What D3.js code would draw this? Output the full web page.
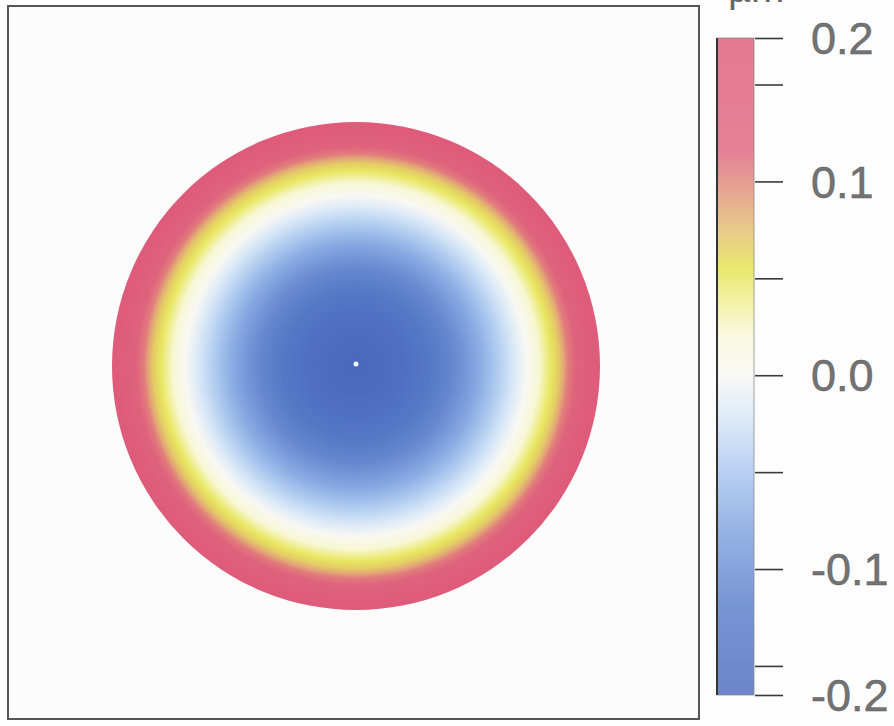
<!DOCTYPE html>
<html>
<head>
<meta charset="utf-8">
<script src="https://cdn.jsdelivr.net/npm/d3@7"></script>
<style>
  body { margin: 0; background: #fdfdfd; }
  svg { display: block; }
</style>
</head>
<body>
<div id="chart"></div>
<script>
// radial profile (normalized radius -> value)
var profileR = [0, 0.1, 0.2, 0.3, 0.4, 0.5, 0.55, 0.6, 0.65, 0.7, 0.75, 0.8, 0.83, 0.85, 0.87, 0.9, 0.95, 1.0];
var profileV = [-0.165, -0.162, -0.152, -0.133, -0.108, -0.075, -0.057, -0.038, -0.019, 0.0, 0.022, 0.05, 0.068, 0.085, 0.105, 0.13, 0.158, 0.172];

// colour map
var colorVals = [-0.165, -0.12, -0.08, -0.05, -0.02, 0.0, 0.02, 0.04, 0.055, 0.075, 0.095, 0.115, 0.174];
var colorHex  = ["#4a6bbd", "#5a7dca", "#80a2de", "#a9c6ef", "#d9e8f7", "#f8f8f3", "#f9f8dc", "#efee8c", "#e4e34c", "#e4bf72", "#e2927a", "#df667e", "#de5b7a"];

var scaleMin = -0.165, scaleMax = 0.174;
var tickValues = [-0.15, -0.1, -0.05, 0, 0.05, 0.1, 0.15];
var labelValues = [-0.165, -0.1, 0, 0.1, 0.174];
var labelTexts = ["-0.2", "-0.1", "0.0", "0.1", "0.2"];

var width = 894, height = 726;

var svg = d3.select("#chart").append("svg")
  .attr("width", width)
  .attr("height", height);

var defs = svg.append("defs");

var colorScale = d3.scaleLinear()
  .domain(colorVals)
  .range(colorHex)
  .clamp(true);

// pupil coordinates -> pixels
var xScale = d3.scaleLinear().domain([-1, 1]).range([112, 600]),
    yScale = d3.scaleLinear().domain([-1, 1]).range([610, 122]);

// plot frame
svg.append("rect")
  .attr("x", 8).attr("y", 6)
  .attr("width", 691).attr("height", 713)
  .style("fill", "#fcfcfc")
  .style("stroke", "#555")
  .style("stroke-width", 2);

// radial gradient built from the profile
var rg = defs.append("radialGradient")
  .attr("id", "map")
  .attr("cx", "50%").attr("cy", "50%").attr("r", "50%");
rg.selectAll("stop")
  .data(profileR)
  .enter().append("stop")
  .attr("offset", function (d) { return (d * 100) + "%"; })
  .attr("stop-color", function (d, i) { return colorScale(profileV[i]); });

svg.append("circle")
  .attr("cx", xScale(0))
  .attr("cy", yScale(0))
  .attr("r", xScale(1) - xScale(0))
  .style("fill", "url(#map)");

// centre marker
svg.append("circle")
  .attr("cx", xScale(0))
  .attr("cy", yScale(0) - 2)
  .attr("r", 2.5)
  .style("fill", "#f4f6fb");

// colour bar
var barScale = d3.scaleLinear()
  .domain([scaleMin, scaleMax])
  .range([695, 38]);

var lg = defs.append("linearGradient")
  .attr("id", "bar")
  .attr("x1", 0).attr("y1", 1).attr("x2", 0).attr("y2", 0);
lg.selectAll("stop")
  .data(colorVals)
  .enter().append("stop")
  .attr("offset", function (d) { return ((d - scaleMin) / (scaleMax - scaleMin) * 100) + "%"; })
  .attr("stop-color", function (d) { return colorScale(d); })
  .attr("stop-opacity", 0.82);

svg.append("rect")
  .attr("x", 717)
  .attr("y", barScale(scaleMax))
  .attr("width", 37)
  .attr("height", barScale(scaleMin) - barScale(scaleMax))
  .style("fill", "url(#bar)")
  .style("stroke", "#8a8a8a")
  .style("stroke-width", 0.8);

svg.append("line")
  .attr("x1", 717).attr("x2", 717)
  .attr("y1", barScale(scaleMax)).attr("y2", barScale(scaleMin))
  .style("stroke", "#333")
  .style("stroke-width", 2);

var ticks = svg.append("g")
  .attr("transform", "translate(755,0)")
  .call(d3.axisRight(barScale)
    .tickValues(tickValues.concat([scaleMin, scaleMax]))
    .tickSize(28)
    .tickFormat(""));
ticks.select(".domain").remove();
ticks.selectAll(".tick line")
  .style("stroke", "#3a3a3a")
  .style("stroke-width", 1.6);

svg.selectAll(".barlabel")
  .data(labelValues)
  .enter().append("text")
  .attr("class", "barlabel")
  .attr("x", 811)
  .attr("y", function (d) { return barScale(d); })
  .attr("dy", "0.36em")
  .style("font-family", "'Liberation Sans', Arial, sans-serif")
  .style("font-size", "45px")
  .style("fill", "#737373")
  .style("stroke", "#5a5a5a")
  .style("stroke-width", 0.5)
  .text(function (d, i) { return labelTexts[i]; });

// unit label, mostly cut off at the top as in the scan
svg.append("text")
  .attr("x", 728)
  .attr("y", 2)
  .style("font-family", "'Liberation Sans', Arial, sans-serif")
  .style("font-size", "40px")
  .style("fill", "#666")
  .text("µm");
</script>
</body>
</html>
